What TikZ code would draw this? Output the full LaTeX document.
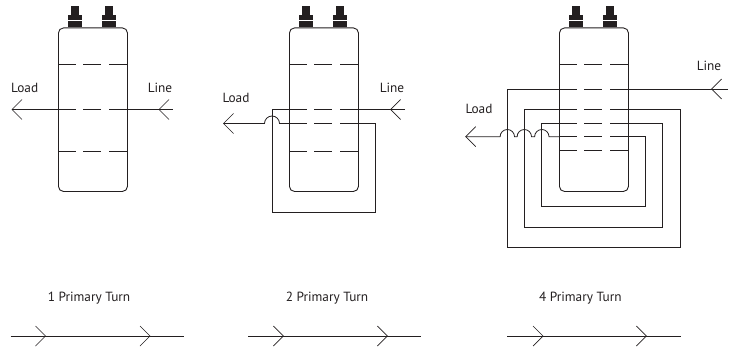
\documentclass[tikz,border=0pt]{standalone}
\usepackage{fontspec}
\setmainfont{PT Sans}
\definecolor{ink}{HTML}{231F20}
\tikzset{
  wire/.style={draw=ink,line width=0.8pt,line join=miter},
  rowdash/.style={draw=ink,line width=0.8pt},
  chev/.style={draw=ink,line width=0.7pt},
  lbl/.style={text=ink,font=\fontsize{13.3}{15}\selectfont,inner sep=0pt},
  canbody/.style={draw=ink,line width=0.9pt,rounded corners=5pt,minimum width=69pt,minimum height=163.5pt,inner sep=0pt},
  term/.style={fill=ink,draw=none}
}
% dashes across the can at height #2, can left edge at #1
\newcommand{\rowat}[2]{%
  \draw[rowdash] (#1,#2) -- ++(17.5,0);
  \draw[rowdash] (#1+25,#2) -- ++(18,0);
  \draw[rowdash] (#1+51,#2) -- ++(18,0);
}
% the can with its two terminals, left edge at #1, name #2
\newcommand{\canat}[2]{%
  \node[canbody,anchor=north west] (#2) at (#1,27.5) {};
  \foreach \tx in {17,51}{
    \fill[term] (#1+\tx-3.7,6) rectangle ++(7.4,9.5);
    \fill[term] (#1+\tx-7.2,15) rectangle ++(14.4,5);
    \fill[term] (#1+\tx-7.2,21) rectangle ++(14.4,6);
  }
}
% open arrow head: tip at #1, wings towards direction sign #2
\newcommand{\headat}[2]{%
  \draw[chev] ($(#1)+(#2*10,-10)$) -- (#1) -- ($(#1)+(#2*10,10)$);
}
\usetikzlibrary{calc}
\begin{document}
\begin{tikzpicture}[x=1pt,y=-1pt]
\useasboundingbox (0,0) rectangle (736,350);

% ---------- panel 1
\canat{58}{canA}
\rowat{58}{64}\rowat{58}{109.5}\rowat{58}{151}
\coordinate (aLoad) at (12,109.5);
\coordinate (aLine) at (159,109.5);
\coordinate (aEnd) at (173,109.5);
\draw[wire] (aLoad) -- (canA.west |- aLoad);
\draw[wire] (canA.east |- aLine) -- (aEnd);
\headat{aLoad}{1}\headat{aLine}{1}
\node[lbl] (aLoadT) at (24.7,87.5) {Load};
\node[lbl] (aLineT) at (160,87.5) {Line};

% ---------- panel 2
\canat{289}{canB}
\rowat{289}{64}\rowat{289}{109.5}\rowat{289}{123.5}\rowat{289}{151}
\coordinate (bLoad) at (223.5,123.5);
\coordinate (bLine) at (390.7,109.5);
\coordinate (bEnd) at (405,109.5);
\draw[wire] (bEnd) -- (canB.east |- bEnd);
\draw[wire] (canB.west |- bEnd) -- (272,109.5) -- (272,212.5) -- (375.5,212.5) -- (375.5,123.5) -- (canB.east |- bLoad);
\draw[wire] (canB.west |- bLoad) -- (279.5,123.5) arc[start angle=0,end angle=-180,radius=7.5] -- (bLoad);
\headat{bLoad}{1}\headat{bLine}{1}
\node[lbl] (bLoadT) at (236,97.5) {Load};
\node[lbl] (bLineT) at (392,87.5) {Line};

% ---------- panel 3
\canat{559}{canC}
\rowat{559}{64}\rowat{559}{89}\rowat{559}{109.5}\rowat{559}{123.5}\rowat{559}{136.7}\rowat{559}{150.7}
\coordinate (cLoad) at (465.7,136.7);
\coordinate (cLine) at (711.7,89);
\coordinate (cEnd) at (728,89);
\draw[wire] (cEnd) -- (canC.east |- cEnd);
\draw[wire] (canC.west |- cEnd) -- (507.3,89) -- (507.3,247.7) -- (680,247.7) -- (680,109.5) -- (canC.east |- 0,109.5);
\draw[wire] (canC.west |- 0,109.5) -- (524.3,109.5) -- (524.3,227) -- (662.7,227) -- (662.7,123.5) -- (canC.east |- 0,123.5);
\draw[wire] (canC.west |- 0,123.5) -- (541.7,123.5) -- (541.7,206) -- (645.3,206) -- (645.3,136.7) -- (canC.east |- cLoad);
\draw[wire] (canC.west |- cLoad) -- (549,136.7)
  arc[start angle=0,end angle=-180,radius=7.2] -- (531.5,136.7)
  arc[start angle=0,end angle=-180,radius=7.2] -- (514.5,136.7)
  arc[start angle=0,end angle=-180,radius=7.2] -- (cLoad);
\headat{cLoad}{1}\headat{cLine}{1}
\node[lbl] (cLoadT) at (479,109) {Load};
\node[lbl] (cLineT) at (709,65.5) {Line};

% ---------- bottom row
\node[lbl] (t1) at (89,298) {1 Primary Turn};
\node[lbl] (t2) at (327,298) {2 Primary Turn};
\node[lbl] (t4) at (580.3,298) {4 Primary Turn};
\coordinate (p1s) at (10.5,336); \coordinate (p1e) at (184,336);
\coordinate (p2s) at (248,336); \coordinate (p2e) at (421.3,336);
\coordinate (p3s) at (507.3,336); \coordinate (p3e) at (680.7,336);
\draw[wire] (p1s) -- (p1e);
\draw[wire] (p2s) -- (p2e);
\draw[wire] (p3s) -- (p3e);
\foreach \tip in {45.5,150,283.3,387.3,543,646.3}{
  \coordinate (tp) at (\tip,336);
  \headat{tp}{-1}
}
\end{tikzpicture}
\end{document}
